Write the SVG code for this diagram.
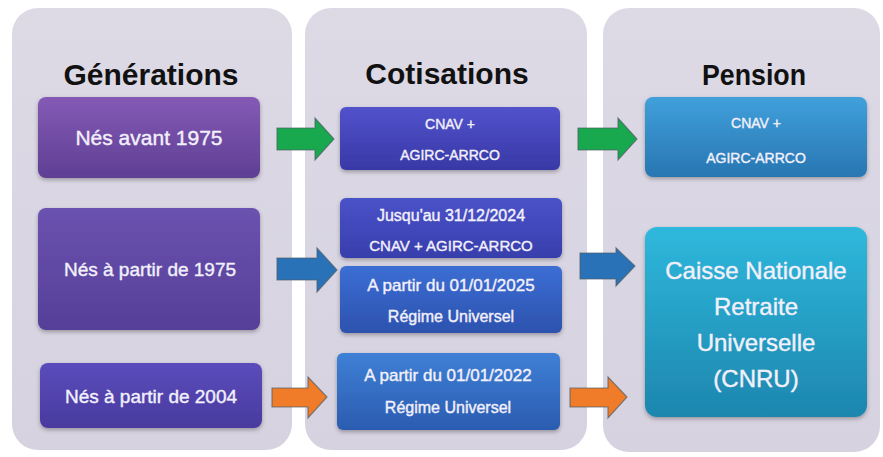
<svg xmlns="http://www.w3.org/2000/svg" width="883" height="457" viewBox="0 0 883 457">
<defs>
<linearGradient id="gCol" x1="0" y1="0" x2="0" y2="1"><stop offset="0" stop-color="#dddae6"/><stop offset="1" stop-color="#d6d2e0"/></linearGradient>
<linearGradient id="g1" x1="0" y1="0" x2="0" y2="1"><stop offset="0" stop-color="#845ab5"/><stop offset="1" stop-color="#5e3f93"/></linearGradient>
<linearGradient id="g2" x1="0" y1="0" x2="0" y2="1"><stop offset="0" stop-color="#6b52b0"/><stop offset="1" stop-color="#553f98"/></linearGradient>
<linearGradient id="g3" x1="0" y1="0" x2="0" y2="1"><stop offset="0" stop-color="#5b4cbc"/><stop offset="1" stop-color="#483a9e"/></linearGradient>
<linearGradient id="gA" x1="0" y1="0" x2="0" y2="1"><stop offset="0" stop-color="#5252cc"/><stop offset="1" stop-color="#3838a6"/></linearGradient>
<linearGradient id="gB" x1="0" y1="0" x2="0" y2="1"><stop offset="0" stop-color="#4a52c8"/><stop offset="1" stop-color="#383eac"/></linearGradient>
<linearGradient id="gC" x1="0" y1="0" x2="0" y2="1"><stop offset="0" stop-color="#3c6ed4"/><stop offset="1" stop-color="#2d52ae"/></linearGradient>
<linearGradient id="gD" x1="0" y1="0" x2="0" y2="1"><stop offset="0" stop-color="#3e80d6"/><stop offset="1" stop-color="#2b5cb0"/></linearGradient>
<linearGradient id="gE" x1="0" y1="0" x2="0" y2="1"><stop offset="0" stop-color="#40a0da"/><stop offset="1" stop-color="#2876b2"/></linearGradient>
<linearGradient id="gF" x1="0" y1="0" x2="0" y2="1"><stop offset="0" stop-color="#2fb8dc"/><stop offset="1" stop-color="#1d86ae"/></linearGradient>
<filter id="sh" x="-10%" y="-10%" width="120%" height="130%"><feDropShadow dx="0" dy="2" stdDeviation="2" flood-color="#000" flood-opacity="0.3"/></filter>
</defs>
<style>
.col{fill:url(#gCol);}
.hdr{font-family:"Liberation Sans",Arial,sans-serif;font-weight:bold;font-size:30px;fill:#111;text-anchor:middle;}
.box{filter:url(#sh);}
.t{font-family:"Liberation Sans",Arial,sans-serif;fill:#f2f0fb;stroke:#f2f0fb;stroke-width:0.4;text-anchor:middle;}
.arrow{stroke:#4e5f66;stroke-width:1.2;stroke-opacity:0.7;}
</style>
<rect width="883" height="457" fill="#ffffff"/>
<g id="col-generations"><rect class="col" x="12" y="8" width="280" height="442" rx="26"/><text class="hdr" x="151" y="85">Générations</text></g>
<g id="col-cotisations"><rect class="col" x="305" y="8" width="282" height="442" rx="26"/><text class="hdr" x="447" y="84">Cotisations</text></g>
<g id="col-pension"><rect class="col" x="603" y="8" width="277" height="444" rx="26"/><text class="hdr" x="754" y="85" textLength="104" lengthAdjust="spacingAndGlyphs">Pension</text></g>

<g id="n-avant1975"><rect class="box" x="38" y="97" width="222" height="81" rx="8" fill="url(#g1)"/><text class="t" x="149" y="145" font-size="21">Nés avant 1975</text></g>
<g id="n-1975"><rect class="box" x="38" y="208" width="222" height="122" rx="8" fill="url(#g2)"/><text class="t" x="150" y="276" font-size="19">Nés à partir de 1975</text></g>
<g id="n-2004"><rect class="box" x="40" y="363" width="222" height="65" rx="8" fill="url(#g3)"/><text class="t" x="151" y="403" font-size="19">Nés à partir de 2004</text></g>

<g id="c-cnav"><rect class="box" x="340" y="107" width="220" height="63" rx="6" fill="url(#gA)"/><text class="t" x="450" y="129" font-size="14">CNAV +</text><text class="t" x="450" y="160" font-size="14">AGIRC-ARRCO</text></g>
<g id="c-jusqu"><rect class="box" x="340" y="198" width="222" height="60" rx="6" fill="url(#gB)"/><text class="t" x="451" y="221" font-size="16">Jusqu'au 31/12/2024</text><text class="t" x="451" y="251" font-size="15">CNAV + AGIRC-ARRCO</text></g>
<g id="c-2025"><rect class="box" x="340" y="266" width="222" height="67" rx="6" fill="url(#gC)"/><text class="t" x="451" y="291" font-size="17">A partir du 01/01/2025</text><text class="t" x="451" y="322" font-size="16">Régime Universel</text></g>
<g id="c-2022"><rect class="box" x="337" y="353" width="223" height="77" rx="6" fill="url(#gD)"/><text class="t" x="448" y="381" font-size="17">A partir du 01/01/2022</text><text class="t" x="448" y="413" font-size="16">Régime Universel</text></g>

<g id="p-cnav"><rect class="box" x="645" y="97" width="222" height="80" rx="8" fill="url(#gE)"/><text class="t" x="756" y="128" font-size="14">CNAV +</text><text class="t" x="756" y="163" font-size="14">AGIRC-ARRCO</text></g>
<g id="p-cnru"><rect class="box" x="645" y="227" width="222" height="190" rx="12" fill="url(#gF)"/>
<text class="t" x="756" y="279" font-size="24">Caisse Nationale</text>
<text class="t" x="756" y="315" font-size="24">Retraite</text>
<text class="t" x="756" y="351" font-size="24">Universelle</text>
<text class="t" x="756" y="387" font-size="24">(CNRU)</text></g>

<g id="connectors">
<path class="arrow" fill="#18a84e" d="M277,128 H315 V118 L334,139 L315,160 V150 H277 Z"/>
<path class="arrow" fill="#18a84e" d="M578,128 H618 V118 L637,139 L618,160 V150 H578 Z"/>
<path class="arrow" fill="#2a72b8" d="M277,258 H317 V248 L337,270 L317,292 V280 H277 Z"/>
<path class="arrow" fill="#2a72b8" d="M580,253 H616 V248 L635,266 L616,286 V279 H580 Z"/>
<path class="arrow" fill="#f07b28" d="M272,388 H308 V377 L327,397 L308,418 V407 H272 Z"/>
<path class="arrow" fill="#f07b28" d="M570,388 H608 V377 L627,397 L608,418 V407 H570 Z"/>
</g>
</svg>
